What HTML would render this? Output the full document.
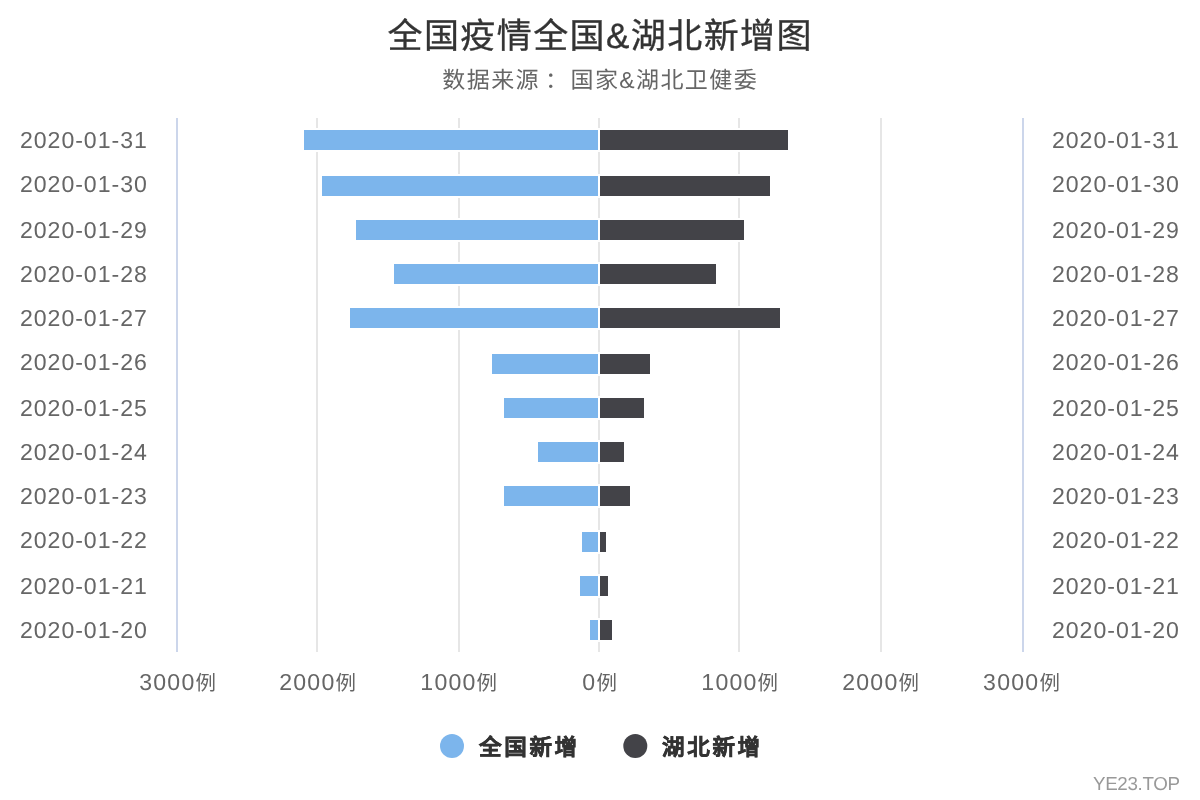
<!DOCTYPE html>
<html lang="zh-CN"><head><meta charset="utf-8"><title>全国疫情全国&amp;湖北新增图</title>
<style>html,body{margin:0;padding:0;background:#fff;width:1200px;height:800px;overflow:hidden}svg{display:block;will-change:transform;text-rendering:geometricPrecision}text{font-family:"Liberation Sans", sans-serif}</style></head><body>
<svg width="1200" height="800" viewBox="0 0 1200 800">
<rect x="0" y="0" width="1200" height="800" fill="#ffffff"/>
<g class="grid" fill="#e6e6e6">
<rect x="316" y="118" width="2" height="534"/>
<rect x="458" y="118" width="2" height="534"/>
<rect x="598" y="118" width="2" height="534"/>
<rect x="738" y="118" width="2" height="534"/>
<rect x="880" y="118" width="2" height="534"/>
</g>
<g class="series">
<rect x="302" y="128" width="488" height="24" fill="#ffffff"/>
<rect x="304" y="130" width="294" height="20" fill="#7cb5ec"/>
<rect x="600" y="130" width="188" height="20" fill="#434348"/>
<rect x="320" y="174" width="452" height="24" fill="#ffffff"/>
<rect x="322" y="176" width="276" height="20" fill="#7cb5ec"/>
<rect x="600" y="176" width="170" height="20" fill="#434348"/>
<rect x="354" y="218" width="392" height="24" fill="#ffffff"/>
<rect x="356" y="220" width="242" height="20" fill="#7cb5ec"/>
<rect x="600" y="220" width="144" height="20" fill="#434348"/>
<rect x="392" y="262" width="326" height="24" fill="#ffffff"/>
<rect x="394" y="264" width="204" height="20" fill="#7cb5ec"/>
<rect x="600" y="264" width="116" height="20" fill="#434348"/>
<rect x="348" y="306" width="434" height="24" fill="#ffffff"/>
<rect x="350" y="308" width="248" height="20" fill="#7cb5ec"/>
<rect x="600" y="308" width="180" height="20" fill="#434348"/>
<rect x="490" y="352" width="162" height="24" fill="#ffffff"/>
<rect x="492" y="354" width="106" height="20" fill="#7cb5ec"/>
<rect x="600" y="354" width="50" height="20" fill="#434348"/>
<rect x="502" y="396" width="144" height="24" fill="#ffffff"/>
<rect x="504" y="398" width="94" height="20" fill="#7cb5ec"/>
<rect x="600" y="398" width="44" height="20" fill="#434348"/>
<rect x="536" y="440" width="90" height="24" fill="#ffffff"/>
<rect x="538" y="442" width="60" height="20" fill="#7cb5ec"/>
<rect x="600" y="442" width="24" height="20" fill="#434348"/>
<rect x="502" y="484" width="130" height="24" fill="#ffffff"/>
<rect x="504" y="486" width="94" height="20" fill="#7cb5ec"/>
<rect x="600" y="486" width="30" height="20" fill="#434348"/>
<rect x="580" y="530" width="28" height="24" fill="#ffffff"/>
<rect x="582" y="532" width="16" height="20" fill="#7cb5ec"/>
<rect x="600" y="532" width="6" height="20" fill="#434348"/>
<rect x="578" y="574" width="32" height="24" fill="#ffffff"/>
<rect x="580" y="576" width="18" height="20" fill="#7cb5ec"/>
<rect x="600" y="576" width="8" height="20" fill="#434348"/>
<rect x="588" y="618" width="26" height="24" fill="#ffffff"/>
<rect x="590" y="620" width="8" height="20" fill="#7cb5ec"/>
<rect x="600" y="620" width="12" height="20" fill="#434348"/>
</g>
<g class="axis-lines" fill="#ccd6eb"><rect x="176" y="118" width="2" height="534"/><rect x="1022" y="118" width="2" height="534"/></g>
<g class="xaxis-labels" font-size="23.1" fill="#666666">
<text x="146.8" y="148.00" text-anchor="end" textLength="126.85" lengthAdjust="spacing">2020-01-31</text>
<text x="1052" y="148.00" textLength="126.85" lengthAdjust="spacing">2020-01-31</text>
<text x="146.8" y="192.00" text-anchor="end" textLength="126.85" lengthAdjust="spacing">2020-01-30</text>
<text x="1052" y="192.00" textLength="126.85" lengthAdjust="spacing">2020-01-30</text>
<text x="146.8" y="238.00" text-anchor="end" textLength="126.85" lengthAdjust="spacing">2020-01-29</text>
<text x="1052" y="238.00" textLength="126.85" lengthAdjust="spacing">2020-01-29</text>
<text x="146.8" y="282.00" text-anchor="end" textLength="126.85" lengthAdjust="spacing">2020-01-28</text>
<text x="1052" y="282.00" textLength="126.85" lengthAdjust="spacing">2020-01-28</text>
<text x="146.8" y="326.00" text-anchor="end" textLength="126.85" lengthAdjust="spacing">2020-01-27</text>
<text x="1052" y="326.00" textLength="126.85" lengthAdjust="spacing">2020-01-27</text>
<text x="146.8" y="370.00" text-anchor="end" textLength="126.85" lengthAdjust="spacing">2020-01-26</text>
<text x="1052" y="370.00" textLength="126.85" lengthAdjust="spacing">2020-01-26</text>
<text x="146.8" y="416.00" text-anchor="end" textLength="126.85" lengthAdjust="spacing">2020-01-25</text>
<text x="1052" y="416.00" textLength="126.85" lengthAdjust="spacing">2020-01-25</text>
<text x="146.8" y="460.00" text-anchor="end" textLength="126.85" lengthAdjust="spacing">2020-01-24</text>
<text x="1052" y="460.00" textLength="126.85" lengthAdjust="spacing">2020-01-24</text>
<text x="146.8" y="504.00" text-anchor="end" textLength="126.85" lengthAdjust="spacing">2020-01-23</text>
<text x="1052" y="504.00" textLength="126.85" lengthAdjust="spacing">2020-01-23</text>
<text x="146.8" y="548.00" text-anchor="end" textLength="126.85" lengthAdjust="spacing">2020-01-22</text>
<text x="1052" y="548.00" textLength="126.85" lengthAdjust="spacing">2020-01-22</text>
<text x="146.8" y="594.00" text-anchor="end" textLength="126.85" lengthAdjust="spacing">2020-01-21</text>
<text x="1052" y="594.00" textLength="126.85" lengthAdjust="spacing">2020-01-21</text>
<text x="146.8" y="638.00" text-anchor="end" textLength="126.85" lengthAdjust="spacing">2020-01-20</text>
<text x="1052" y="638.00" textLength="126.85" lengthAdjust="spacing">2020-01-20</text>
</g>
<g class="yaxis-labels" font-size="22" fill="#666666" text-anchor="middle">
<text x="177.6" y="690" textLength="76.80" lengthAdjust="spacing"><tspan font-size="23.1">3000</tspan><tspan font-size="20.5">例</tspan></text>
<text x="317.6" y="690" textLength="76.80" lengthAdjust="spacing"><tspan font-size="23.1">2000</tspan><tspan font-size="20.5">例</tspan></text>
<text x="458.7" y="690" textLength="76.80" lengthAdjust="spacing"><tspan font-size="23.1">1000</tspan><tspan font-size="20.5">例</tspan></text>
<text x="599.6" y="690" textLength="34.80" lengthAdjust="spacing"><tspan font-size="23.1">0</tspan><tspan font-size="20.5">例</tspan></text>
<text x="739.7" y="690" textLength="76.80" lengthAdjust="spacing"><tspan font-size="23.1">1000</tspan><tspan font-size="20.5">例</tspan></text>
<text x="880.6" y="690" textLength="76.80" lengthAdjust="spacing"><tspan font-size="23.1">2000</tspan><tspan font-size="20.5">例</tspan></text>
<text x="1021.5" y="690" textLength="76.80" lengthAdjust="spacing"><tspan font-size="23.1">3000</tspan><tspan font-size="20.5">例</tspan></text>
</g>
<text x="599.5" y="48.1" font-size="35" textLength="424" lengthAdjust="spacing" fill="#333333" stroke="#333333" stroke-width="0.35" text-anchor="middle">全国疫情全国&amp;湖北新增图</text>
<text x="599.5" y="87.6" font-size="23" textLength="314.3" lengthAdjust="spacing" fill="#666666" text-anchor="middle">数据来源<tspan dx="5">：</tspan><tspan dx="-6.5"> 国家&amp;湖北卫健委</tspan></text>
<g class="legend">
<circle cx="452" cy="746" r="12" fill="#7cb5ec"/>
<text x="479" y="754.8" font-size="22.5" font-weight="bold" textLength="98.1" lengthAdjust="spacing" fill="#333333" stroke="#333333" stroke-width="0.5">全国新增</text>
<circle cx="635.3" cy="746" r="12" fill="#434348"/>
<text x="662" y="754.8" font-size="22.5" font-weight="bold" textLength="98.1" lengthAdjust="spacing" fill="#333333" stroke="#333333" stroke-width="0.5">湖北新增</text>
</g>
<text x="1180" y="790" font-size="18.8" fill="#999999" text-anchor="end" textLength="87" lengthAdjust="spacing">YE23.TOP</text>
</svg></body></html>
